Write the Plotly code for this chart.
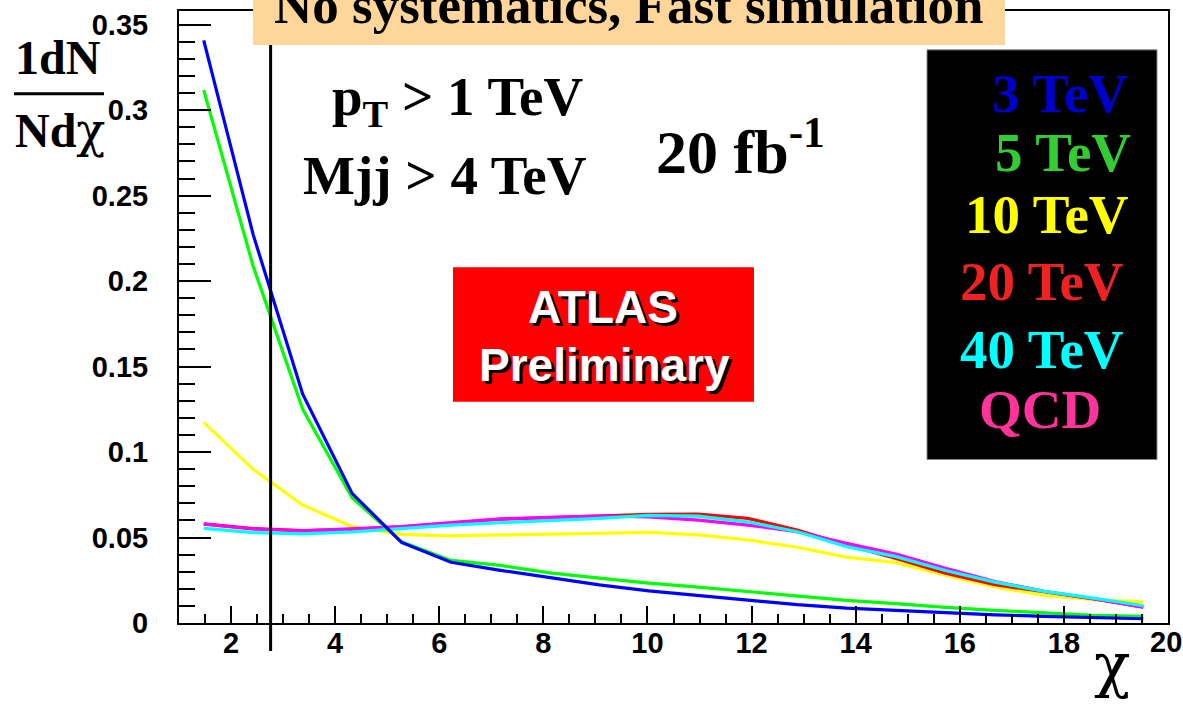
import plotly.graph_objects as go

# chi bin centres (20 bins of width 0.95 between 1 and 20)
chi = [1.475, 2.425, 3.375, 4.325, 5.275, 6.225, 7.175, 8.125, 9.075, 10.025,
       10.975, 11.925, 12.875, 13.825, 14.775, 15.725, 16.675, 17.625, 18.575, 19.525]

# normalised dN/dchi for each contact-interaction scale and for QCD
dist_3tev = [0.3408, 0.2272, 0.1340, 0.0758, 0.0471, 0.0355, 0.0308, 0.0264, 0.0223, 0.0188,
             0.0160, 0.0132, 0.0107, 0.0087, 0.0074, 0.0058, 0.0048, 0.0039, 0.0033, 0.0025]
dist_5tev = [0.3117, 0.2087, 0.1252, 0.0733, 0.0475, 0.0366, 0.0337, 0.0293, 0.0262, 0.0233,
             0.0210, 0.0185, 0.0160, 0.0132, 0.0113, 0.0091, 0.0074, 0.0058, 0.0045, 0.0039]
dist_10tev = [0.1174, 0.0899, 0.0690, 0.0564, 0.0519, 0.0510, 0.0515, 0.0521, 0.0528, 0.0530,
              0.0515, 0.0486, 0.0443, 0.0385, 0.0353, 0.0279, 0.0211, 0.0162, 0.0137, 0.0123]
dist_20tev = [0.0580, 0.0552, 0.0540, 0.0548, 0.0563, 0.0585, 0.0607, 0.0616, 0.0624, 0.0635,
              0.0637, 0.0612, 0.0544, 0.0456, 0.0377, 0.0291, 0.0224, 0.0181, 0.0141, 0.0093]
dist_40tev = [0.0554, 0.0529, 0.0521, 0.0533, 0.0552, 0.0572, 0.0587, 0.0599, 0.0612, 0.0630,
              0.0625, 0.0592, 0.0534, 0.0447, 0.0388, 0.0307, 0.0239, 0.0185, 0.0146, 0.0101]
dist_qcd = [0.0578, 0.0550, 0.0539, 0.0550, 0.0564, 0.0587, 0.0609, 0.0618, 0.0626, 0.0621,
            0.0602, 0.0573, 0.0534, 0.0466, 0.0404, 0.0320, 0.0243, 0.0185, 0.0142, 0.0093]

legend_labels = ["3 TeV", "5 TeV", "10 TeV", "20 TeV", "40 TeV", "QCD"]

x_tick_vals = [2, 4, 6, 8, 10, 12, 14, 16, 18, 20]
x_tick_text = ["2", "4", "6", "8", "10", "12", "14", "16", "18", "20"]
y_tick_vals = [0, 0.05, 0.1, 0.15, 0.2, 0.25, 0.3, 0.35]
y_tick_text = ["0", "0.05", "0.1", "0.15", "0.2", "0.25", "0.3", "0.35"]

x_range = [1, 20]
y_range = [0, 0.358]
chi_cut = 2.76  # vertical marker on the chi axis

# page geometry (pixels)
FIG_W, FIG_H = 1183, 705
M_L, M_R, M_T, M_B = 179, 15, 9, 82
PW = FIG_W - M_L - M_R
PH = FIG_H - M_T - M_B

SERIF = "Liberation Serif, Times New Roman, serif"
SANS = "Liberation Sans, Arial, Helvetica, sans-serif"
GREEK = "DejaVu Serif"
TICK_FONT = dict(family=SANS, size=29, color="black", weight="bold")


def px(xp):
    return (xp - M_L) / PW


def py(yp):
    return (FIG_H - M_B - yp) / PH


fig = go.Figure()

# drawing order: lower curves first, blue on top
series = [
    (dist_10tev, "#ffff00", "10 TeV"),
    (dist_20tev, "#ff0000", "20 TeV"),
    (dist_qcd, "#ff00ff", "QCD"),
    (dist_40tev, "#00ffff", "40 TeV"),
    (dist_5tev, "#00ff00", "5 TeV"),
    (dist_3tev, "#0000ff", "3 TeV"),
]
for ys, col, name in series:
    fig.add_trace(go.Scatter(x=chi, y=ys, mode="lines", name=name,
                             line=dict(color=col, width=3.2), showlegend=False))

axis_common = dict(
    showline=True, linecolor="black", linewidth=2, mirror=True,
    ticks="inside", tickcolor="black", tickwidth=2,
    showgrid=False, zeroline=False,
)

# the last label (at the frame edge) is placed separately so it is not dropped
fig.update_xaxes(
    range=x_range, tickvals=x_tick_vals, ticktext=x_tick_text[:-1] + [""], ticklen=17,
    tickfont=TICK_FONT, ticklabelstandoff=-7,
    minor=dict(dtick=0.5, ticklen=9, ticks="inside", tickcolor="black", tickwidth=2),
    **axis_common,
)
fig.update_yaxes(
    range=y_range, tickvals=y_tick_vals, ticktext=y_tick_text, ticklen=32,
    tickfont=TICK_FONT, ticklabelstandoff=23,
    minor=dict(dtick=0.01, ticklen=16, ticks="inside", tickcolor="black", tickwidth=2),
    **axis_common,
)

shapes = []
# vertical chi cut line, extending slightly below the axis
xc = (chi_cut - x_range[0]) / (x_range[1] - x_range[0])
shapes.append(dict(type="line", xref="paper", yref="paper", x0=xc, x1=xc,
                   y0=py(651), y1=1, line=dict(color="black", width=3)))
# title banner
shapes.append(dict(type="rect", xref="paper", yref="paper", x0=px(253), x1=px(1005),
                   y0=py(43), y1=py(-2), fillcolor="#ffd699", line=dict(width=0),
                   layer="above"))
# ATLAS Preliminary box
shapes.append(dict(type="rect", xref="paper", yref="paper", x0=px(453), x1=px(754),
                   y0=py(401), y1=py(266), fillcolor="#ff0000", line=dict(width=0),
                   layer="above"))
# legend box
shapes.append(dict(type="rect", xref="paper", yref="paper", x0=px(927), x1=px(1157),
                   y0=py(459), y1=py(48), fillcolor="black",
                   line=dict(color="#888888", width=1), layer="above"))
# fraction bar of the y-axis title
shapes.append(dict(type="line", xref="paper", yref="paper", x0=px(14), x1=px(104),
                   y0=py(92), y1=py(92), line=dict(color="black", width=3)))

annotations = []


def label(text, xp, base, size, color="black", family=SERIF, anchor="center",
          bold=True, shadow=None, asc=0.34):
    mid = base - asc * size
    f = dict(family=family, size=size, color=color, weight="bold" if bold else "normal")
    if shadow:
        f["shadow"] = shadow
    annotations.append(dict(text=text, xref="paper", yref="paper", x=px(xp), y=py(mid),
                            xanchor=anchor, yanchor="middle", showarrow=False,
                            font=f, borderpad=0))


label("No systematics, Fast simulation", 629, 21, 53)
label("p<sub>T</sub> > 1 TeV", 584, 117, 55, anchor="right")
label("Mjj > 4 TeV", 588, 193, 55, anchor="right")
label("20 fb<sup>-1</sup>", 655, 167, 62, anchor="left")
label("ATLAS", 603, 322, 46, color="white", family=SANS, shadow="3px 3px 0px black", asc=0.347)
label("Preliminary", 604, 380, 46, color="white", family=SANS, shadow="3px 3px 0px black", asc=0.347)

legend_colors = ["#0000cc", "#33cc33", "#ffff00", "#ee2222", "#00ffff", "#ff3399"]
legend_x = [1060, 1063, 1047, 1042, 1042, 1040]
legend_base = [110, 170, 232, 299, 367, 428]
for t, c, xx, bb in zip(legend_labels, legend_colors, legend_x, legend_base):
    label(t, xx, bb, 55, color=c)

label("1dN", 58, 72, 48)
label("Nd<span style='font-family:DejaVu Serif;font-weight:normal'>χ</span>", 60, 145, 48)
label("χ", 1112, 686, 60, family=GREEK, bold=False)

# tick label at the right end of the chi axis
annotations.append(dict(text=x_tick_text[-1], xref="x", yref="paper", x=x_tick_vals[-1],
                        y=py(642), xanchor="center", yanchor="middle", xshift=-2,
                        showarrow=False, font=TICK_FONT, borderpad=0))

fig.update_layout(
    width=FIG_W, height=FIG_H,
    margin=dict(l=M_L, r=M_R, t=M_T, b=M_B),
    paper_bgcolor="white", plot_bgcolor="white",
    shapes=shapes, annotations=annotations, showlegend=False,
)

fig.write_html("out.html")
